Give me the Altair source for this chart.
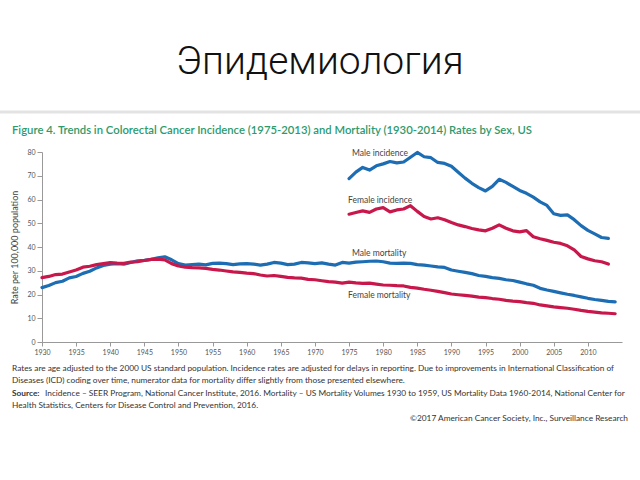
import altair as alt
import pandas as pd

# ---------------- data ----------------
years_inc = list(range(1975, 2014))
male_inc = [68.8, 71.5, 73.5, 72.4, 74.2, 75.0, 76.0, 75.4, 75.8, 77.8,
            79.8, 78.0, 77.6, 75.6, 75.2, 74.0, 71.5, 69.0, 66.8, 65.0,
            63.6, 65.5, 68.5, 67.2, 65.5, 63.8, 62.6, 61.0, 59.0, 57.5,
            54.0, 53.3, 53.5, 51.5, 49.0, 47.0, 45.5, 44.0, 43.6]
female_inc = [53.8, 54.5, 55.2, 54.6, 56.0, 56.6, 54.8, 55.6, 56.0, 57.4,
              55.0, 52.8, 51.8, 52.3, 51.5, 50.3, 49.3, 48.6, 47.8, 47.2,
              46.8, 47.9, 49.3, 47.9, 46.8, 46.4, 46.9, 44.3, 43.5, 42.8,
              42.0, 41.5, 40.5, 38.8, 36.0, 35.0, 34.2, 33.8, 32.8]

years_mort = list(range(1930, 2015))
male_mort = [22.9, 23.8, 25.0, 25.6, 27.0, 27.6, 28.9, 29.8, 31.2, 32.2,
             32.8, 33.0, 32.8, 33.5, 34.2, 34.4, 34.8, 35.4, 35.9, 34.6,
             33.0, 32.4, 32.6, 32.8, 32.5, 33.1, 33.2, 33.0, 32.6, 32.9,
             33.0, 32.8, 32.4, 32.8, 33.5, 33.2, 32.6, 32.8, 33.5, 33.3,
             33.0, 33.3, 32.8, 32.4, 33.5, 33.2, 33.6, 33.8, 34.0, 34.1,
             33.8, 33.2, 33.1, 33.2, 33.1, 32.6, 32.4, 32.0, 31.6, 31.4,
             30.3, 29.8, 29.3, 28.8, 28.0, 27.6, 27.1, 26.8, 26.2, 25.9,
             25.2, 24.5, 23.9, 22.6, 21.9, 21.3, 20.7, 20.1, 19.6, 19.0,
             18.4, 17.9, 17.5, 17.1, 16.9]
female_mort = [27.1, 27.6, 28.4, 28.6, 29.5, 30.3, 31.5, 31.9, 32.6, 33.0,
               33.4, 33.2, 33.1, 33.6, 33.8, 34.3, 34.8, 34.9, 34.6, 33.0,
               32.0, 31.5, 31.3, 31.2, 31.0, 30.6, 30.3, 29.9, 29.5, 29.3,
               29.0, 28.8, 28.2, 27.8, 28.0, 27.6, 27.2, 27.0, 26.9, 26.4,
               26.2, 25.8, 25.4, 25.2, 24.8, 25.2, 24.9, 24.7, 24.8, 24.4,
               24.0, 23.9, 23.7, 23.6, 23.0, 22.7, 22.2, 21.8, 21.3, 20.8,
               20.2, 19.9, 19.6, 19.3, 18.9, 18.7, 18.3, 18.0, 17.5, 17.2,
               17.0, 16.6, 16.3, 15.6, 15.2, 14.8, 14.5, 14.2, 13.8, 13.3,
               12.9, 12.6, 12.3, 12.1, 11.9]

series_names = ["Male incidence", "Female incidence", "Male mortality", "Female mortality"]
series_colors = ["#1c6db3", "#c8184b", "#1c6db3", "#c8184b"]

x_ticks = list(range(1930, 2015, 5))
y_ticks = list(range(0, 90, 10))

slide_title = "Эпидемиология"
fig_title = ("Figure 4. Trends in Colorectal Cancer Incidence (1975-2013) and "
             "Mortality (1930-2014) Rates by Sex, US")
note1 = ("Rates are age adjusted to the 2000 US standard population. Incidence rates are "
         "adjusted for delays in reporting. Due to improvements in International Classification of")
note2 = ("Diseases (ICD) coding over time, numerator data for mortality differ slightly "
         "from those presented elsewhere.")
src_bold = "Source:"
note3 = ("Incidence – SEER Program, National Cancer Institute, 2016. Mortality – US Mortality "
         "Volumes 1930 to 1959, US Mortality Data 1960-2014, National Center for")
note4 = "Health Statistics, Centers for Disease Control and Prevention, 2016."
copyright_txt = "©2017 American Cancer Society, Inc., Surveillance Research"

# ---------------- table ----------------
rows = []
for y, v in zip(years_inc, male_inc):
    rows.append({"year": y, "rate": v, "series": series_names[0]})
for y, v in zip(years_inc, female_inc):
    rows.append({"year": y, "rate": v, "series": series_names[1]})
for y, v in zip(years_mort, male_mort):
    rows.append({"year": y, "rate": v, "series": series_names[2]})
for y, v in zip(years_mort, female_mort):
    rows.append({"year": y, "rate": v, "series": series_names[3]})
df = pd.DataFrame(rows)

FONT = "Lato"

x_enc = alt.X("year:Q",
              scale=alt.Scale(domain=[1930, 2015], nice=False, zero=False),
              axis=alt.Axis(values=x_ticks, format="d", title=None, grid=False,
                            labelFontSize=7, labelColor="#555", labelFont=FONT,
                            tickColor="#999", domainColor="#999", tickSize=4,
                            labelPadding=2, labelFlush=False))
y_enc = alt.Y("rate:Q",
              scale=alt.Scale(domain=[0, 80], nice=False),
              axis=alt.Axis(values=y_ticks, title="Rate per 100,000 population",
                            grid=False, labelFontSize=7, labelColor="#555", labelFont=FONT,
                            tickColor="#999", domainColor="#999", tickSize=5,
                            labelPadding=2, titleFont=FONT, titleFontSize=9,
                            titleFontWeight="normal", titleColor="#444", titlePadding=7))

lines = alt.Chart(df).mark_line(strokeWidth=3.2, strokeJoin="round", strokeCap="round").encode(
    x=x_enc, y=y_enc,
    color=alt.Color("series:N", scale=alt.Scale(domain=series_names, range=series_colors),
                    legend=None),
    detail="series:N",
)


def txt(s, x, y, size=8.3, color="#333", align="left", weight="normal", font=FONT):
    return alt.Chart(pd.DataFrame({"t": [s]})).mark_text(
        align=align, baseline="middle", fontSize=size, color=color,
        fontWeight=weight, font=font
    ).encode(text="t:N", x=alt.value(x), y=alt.value(y))


sep = alt.Chart(pd.DataFrame({"a": [0]})).mark_rule(color="#e3e3e3", strokeWidth=3).encode(
    x=alt.value(-42), x2=alt.value(598), y=alt.value(-40))

layers = [
    sep,
    lines,
    txt(slide_title, 278, -90, size=39, color="#111", align="center", weight=300, font="Roboto"),
    txt(fig_title, -30, -21, size=11.3, color="#2e9a6b", weight=600),
    txt(series_names[0], 310, 1, size=8.5, color="#444"),
    txt(series_names[1], 306, 48, size=8.5, color="#444"),
    txt(series_names[2], 310, 101, size=8.5, color="#444"),
    txt(series_names[3], 306, 143, size=8.5, color="#444"),
    txt(note1, -30, 217),
    txt(note2, -30, 229),
    txt(src_bold, -30, 242, weight="bold"),
    txt(note3, 3, 242),
    txt(note4, -30, 254),
    txt(copyright_txt, 586, 267, align="right"),
]

chart = alt.layer(*layers).properties(
    width=580, height=190,
    padding={"left": 42, "top": 152, "right": 18, "bottom": 138},
    autosize=alt.AutoSizeParams(type="none"),
    background="white",
).configure_view(stroke=None)

chart.save("out.html", embed_options={"renderer": "svg", "actions": False})
